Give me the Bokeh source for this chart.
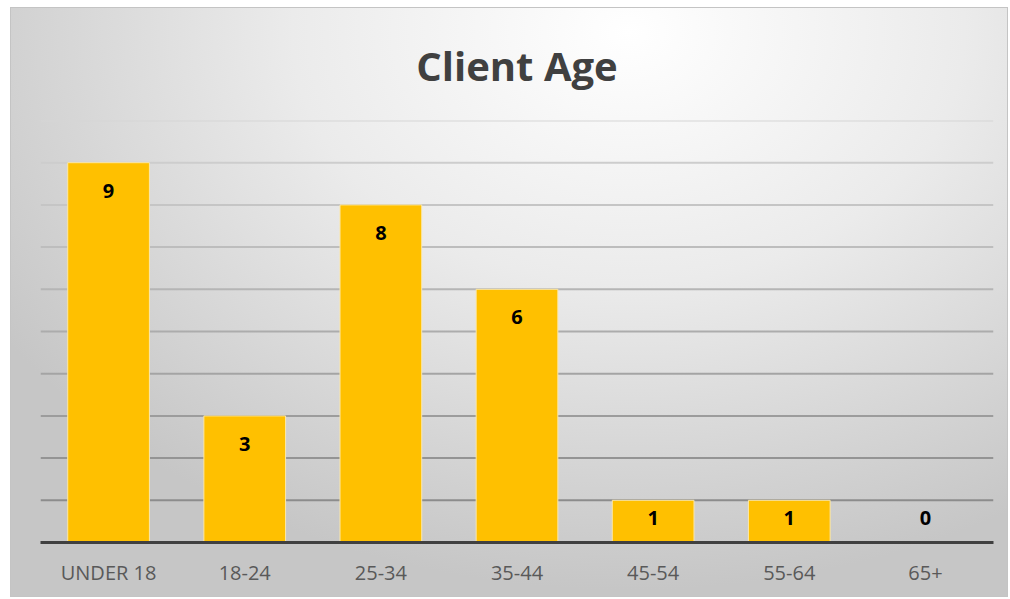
import numpy as np
from bokeh.plotting import figure
from bokeh.models import ColumnDataSource, Span, FactorRange
from bokeh.core.properties import value
from bokeh.embed import file_html
from bokeh.resources import INLINE

categories = ["UNDER 18", "18-24", "25-34", "35-44", "45-54", "55-64", "65+"]
counts = [9, 3, 8, 6, 1, 1, 0]
grid_values = list(range(1, 11))

counts_arr = np.array(counts)
label_y = np.maximum(counts_arr, 1)
label_off = np.where(counts_arr >= 2, 28, 18)

src = ColumnDataSource(dict(cat=categories, val=counts, ly=label_y, loff=label_off,
                            txt=[str(c) for c in counts]))

p = figure(width=998, height=590, x_range=FactorRange(*categories, range_padding=0),
           y_range=(0, 10), output_backend="svg", toolbar_location=None,
           title="Client Age", min_border_left=29, min_border_right=16,
           min_border_top=112, min_border_bottom=56)

p.styles = {"background": "radial-gradient(ellipse 75% 95% at 62% 4%, #ffffff 0%, #ebebeb 45%, #d0d0d0 85%, #c6c6c6 100%)",
            "border": "1px solid #c4c4c4", "box-sizing": "border-box",
            "margin-left": "10px", "margin-top": "7px"}
p.background_fill_alpha = 0
p.border_fill_alpha = 0
p.outline_line_color = None

p.title.text_font = "Open Sans"
p.title.text_font_style = "bold"
p.title.text_font_size = "40px"
p.title.text_color = "#404040"
p.title.align = "center"
p.title.vertical_align = "top"
p.title.standoff = 52

p.xgrid.visible = False
p.ygrid.visible = False
p.yaxis.visible = False

n = len(grid_values)
for i, gv in enumerate(grid_values):
    t = i / (n - 1)
    c0 = np.array([0x8c, 0x8c, 0x8c])
    c1 = np.array([0xd6, 0xd6, 0xd6])
    c = (c0 + (c1 - c0) * t).astype(int)
    col = "#%02x%02x%02x" % tuple(c)
    p.add_layout(Span(location=gv, dimension="width", line_color=col, line_width=2, level="underlay"))

p.vbar(x="cat", top="val", width=0.6, source=src, fill_color="#FFC000",
       line_color="#fbe7a8", line_width=1)

p.text(x="cat", y="ly", text="txt", y_offset="loff", source=src,
       text_font=value("Open Sans"), text_font_style="bold", text_font_size="20px",
       text_color="#000000", text_align="center", text_baseline="middle")

ax = p.xaxis[0]
ax.axis_line_color = "#404040"
ax.axis_line_width = 3
ax.major_tick_line_color = None
ax.minor_tick_line_color = None
ax.major_label_text_font = "Open Sans"
ax.major_label_text_font_size = "20px"
ax.major_label_text_color = "#595959"
ax.major_label_standoff = 10

open("out.html", "w").write(file_html(p, INLINE))
